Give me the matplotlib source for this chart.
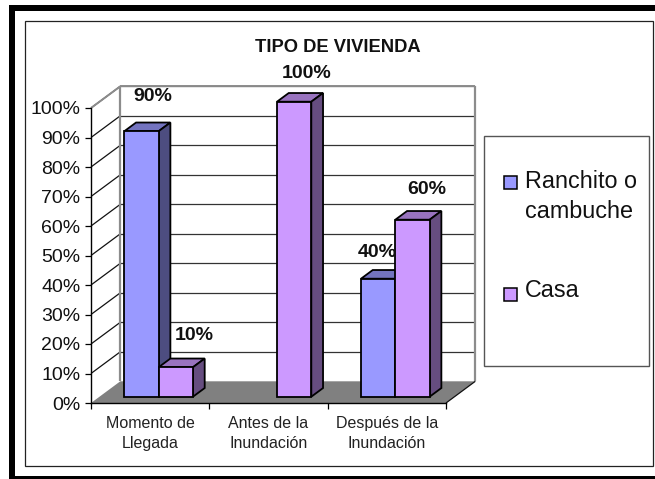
import matplotlib
matplotlib.use("Agg")
import matplotlib.pyplot as plt
from matplotlib.patches import Polygon, Rectangle

plt.rcParams['font.family'] = ['Liberation Sans', 'DejaVu Sans']

title = "TIPO DE VIVIENDA"
categories = ["Momento de\nLlegada", "Antes de la\nInundación", "Después de la\nInundación"]
series_names = ["Ranchito o\ncambuche", "Casa"]
ranchito = [90, 0, 40]
casa = [10, 100, 60]
y_ticks = [0, 10, 20, 30, 40, 50, 60, 70, 80, 90, 100]

W, H = 655, 479
fig = plt.figure(figsize=(W / 100, H / 100), dpi=100, facecolor='white')


def fx(x):
    return x / W


def fy(y):
    return 1 - y / H


def frame_rect(x0, y0, x1, y1, **kw):
    fig.add_artist(Rectangle((fx(x0), fy(y1)), fx(x1) - fx(x0), fy(y0) - fy(y1),
                             transform=fig.transFigure, **kw))


# outer frames
for r in [(9, 5.5, 15, 479), (9, 5.5, 655, 11), (9, 475.7, 655, 479)]:
    frame_rect(*r, facecolor='black', edgecolor='none')
frame_rect(24.5, 20.5, 652.5, 466, facecolor='white', edgecolor='#222222', linewidth=0.9)

# plot area: the front plane of the 3D box
L, R, T, B = 91, 446, 108, 403
ax = fig.add_axes([fx(L), fy(B), fx(R) - fx(L), fy(T) - fy(B)])
ax.set_zorder(2)
ax.set_xlim(0, 3)
ax.set_ylim(0, 100)
ax.patch.set_visible(False)
for s in ['top', 'right']:
    ax.spines[s].set_visible(False)
for s in ['left', 'bottom']:
    ax.spines[s].set_color('black')
    ax.spines[s].set_linewidth(1.0)
    ax.spines[s].set_zorder(3)

ax.set_yticks(y_ticks)
ax.set_yticklabels([f"{v}%" for v in y_ticks], fontsize=14, color='#111111')
ax.tick_params(axis='y', length=4.5, width=0.9, pad=3, color='black')
ax.set_xticks([0, 1, 2, 3])
ax.set_xticklabels([])
ax.tick_params(axis='x', length=4.5, width=0.9, color='black')
for i, c in enumerate(categories):
    ax.annotate(c, xy=(i + 0.5, 0), xytext=(0, -9.5), textcoords='offset points',
                ha='center', va='top', fontsize=11.5, color='#222222', linespacing=1.42)

# depth vector of the box in data units
DX = 29.3 / ((R - L) / 3)
DY = 21.7 / ((B - T) / 100)


def pt(x, y, d):
    return (x + d * DX, y + d * DY)


def poly(pts, fc, ec='none', lw=0.0, z=1):
    ax.add_patch(Polygon(pts, closed=True, facecolor=fc, edgecolor=ec, linewidth=lw,
                         zorder=z, clip_on=False, joinstyle='miter'))


def seg(x0, y0, d0, x1, y1, d1, color, lw, z=2):
    a, b = pt(x0, y0, d0), pt(x1, y1, d1)
    ax.plot([a[0], b[0]], [a[1], b[1]], color=color, lw=lw, zorder=z, clip_on=False,
            solid_capstyle='butt')


# floor
poly([pt(0, 0, 0), pt(3, 0, 0), pt(3, 0, 1), pt(0, 0, 1)], '#808080', z=1)
# gridlines
for v in y_ticks[1:]:
    seg(0, v, 0, 0, v, 1, '#111111', 0.9)
    seg(0, v, 1, 3, v, 1, '#333333', 0.9)
# walls' frame
GRAY = '#8c8c8c'
seg(0, 100, 0, 0, 100, 1, GRAY, 1.4, z=3)
seg(0, 100, 1, 3, 100, 1, GRAY, 1.4, z=3)
seg(0, 0, 1, 0, 100, 1, GRAY, 1.6, z=3)
seg(3, 0, 1, 3, 100, 1, GRAY, 1.6, z=3)
seg(3, 0, 0, 3, 0, 1, '#111111', 0.9, z=3)

# 3D bars
BW = 0.29
D0, D1 = 0.29, 0.69
EC = 'black'
LW = 1.3


def bar3d(x0, h, front, top, side, z):
    x1 = x0 + BW
    poly([pt(x0, h, D0), pt(x1, h, D0), pt(x1, h, D1), pt(x0, h, D1)], top, EC, LW, z)
    poly([pt(x1, 0, D0), pt(x1, 0, D1), pt(x1, h, D1), pt(x1, h, D0)], side, EC, LW, z)
    poly([pt(x0, 0, D0), pt(x1, 0, D0), pt(x1, h, D0), pt(x0, h, D0)], front, EC, LW, z + 0.1)


BLUE = ('#9999FF', '#7373BF', '#4D4D80')
PURPLE = ('#CC99FF', '#9973BF', '#664D80')
for i in range(3):
    if ranchito[i] > 0:
        bar3d(i + 0.5 - BW, ranchito[i], *BLUE, z=4 + i)
    if casa[i] > 0:
        bar3d(i + 0.5, casa[i], *PURPLE, z=4.5 + i)

# data labels (offsets in points from the bar's top centre)
label_off = {(0, 0): (8, 25), (1, 0): (13, 23), (1, 1): (9, 20), (0, 2): (-0.5, 19), (1, 2): (10, 22)}
for s, vals in enumerate([ranchito, casa]):
    for i, v in enumerate(vals):
        if v > 0:
            xc = i + 0.5 + (BW / 2 if s else -BW / 2)
            ax.annotate(f"{v}%", xy=pt(xc, v, D0), xytext=label_off[(s, i)],
                        textcoords='offset points', ha='center', va='center',
                        fontsize=14, fontweight='bold', color='#111111', zorder=12,
                        annotation_clip=False)

fig.text(fx(338), fy(47), title, ha='center', va='center', fontsize=13.2,
         fontweight='bold', color='#111111', zorder=3)

# legend box
frame_rect(484, 136, 649, 365.7, facecolor='white', edgecolor='#555555', linewidth=1.0)
for ly, color, name, ty in [(182.7, BLUE[0], series_names[0], 196.5), (294, PURPLE[0], series_names[1], 290.7)]:
    frame_rect(504, ly - 6.5, 517, ly + 6.5, facecolor=color, edgecolor='black', linewidth=1.1)
    fig.text(fx(525), fy(ty), name, ha='left', va='center', fontsize=16.8,
             color='#111111', linespacing=1.35, zorder=3)

fig.savefig("out.png", dpi=100)
